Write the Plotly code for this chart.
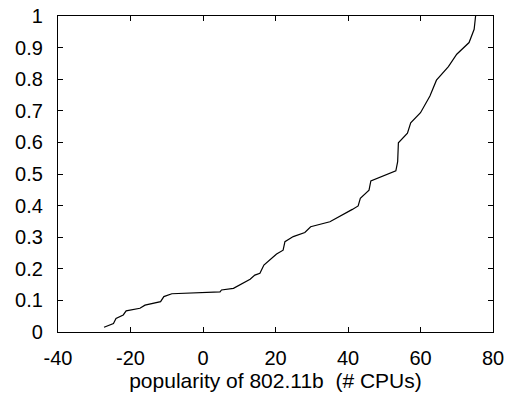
import plotly.graph_objects as go

popularity = [-27.3, -24.7, -24.0, -22.0, -21.2, -17.4, -16.0, -11.7, -10.8, -8.6,
              4.7, 5.1, 8.4, 13.0, 14.3, 15.7, 16.8, 20.3, 22.1, 22.6,
              24.9, 28.1, 29.7, 35.0, 41.2, 42.8, 43.4, 45.8, 46.3, 53.2,
              53.7, 53.9, 56.4, 57.3, 60.0, 62.6, 64.4, 67.7, 70.0, 73.4,
              74.8, 75.2]
cdf = [0.015, 0.027, 0.043, 0.054, 0.067, 0.075, 0.085, 0.096, 0.112, 0.121,
       0.127, 0.133, 0.138, 0.167, 0.180, 0.186, 0.212, 0.247, 0.259, 0.286,
       0.302, 0.315, 0.333, 0.349, 0.388, 0.399, 0.423, 0.449, 0.478, 0.510,
       0.539, 0.599, 0.629, 0.662, 0.694, 0.747, 0.797, 0.840, 0.879, 0.916,
       0.958, 1.0]

x_ticks = [-40, -20, 0, 20, 40, 60, 80]
y_ticks = [0, 0.1, 0.2, 0.3, 0.4, 0.5, 0.6, 0.7, 0.8, 0.9, 1]
y_labels = ["0", "0.1", "0.2", "0.3", "0.4", "0.5", "0.6", "0.7", "0.8", "0.9", "1"]

fig = go.Figure()
fig.add_trace(go.Scatter(x=popularity, y=cdf, mode="lines",
                         line=dict(color="black", width=1.2), showlegend=False))

axis_common = dict(showline=True, linecolor="black", linewidth=1.2, mirror="ticks",
                   ticks="inside", ticklen=5, tickcolor="black", tickwidth=1.2,
                   showgrid=False, zeroline=False,
                   tickfont=dict(family="Liberation Sans", size=20, color="black"))

fig.update_xaxes(range=[-40, 80], tickvals=x_ticks, ticktext=[str(v) for v in x_ticks],
                 title=dict(text="popularity of 802.11b&nbsp;&nbsp;(# CPUs)",
                            font=dict(family="Liberation Sans", size=21, color="black"),
                            standoff=4),
                 ticklabelstandoff=8, **axis_common)
fig.update_yaxes(range=[0, 1], tickvals=y_ticks, ticktext=y_labels,
                 ticklabelstandoff=10, **axis_common)

fig.update_layout(width=515, height=394, plot_bgcolor="white", paper_bgcolor="white",
                  margin=dict(l=58, r=22, t=16, b=62, autoexpand=False))

fig.write_html("out.html")
